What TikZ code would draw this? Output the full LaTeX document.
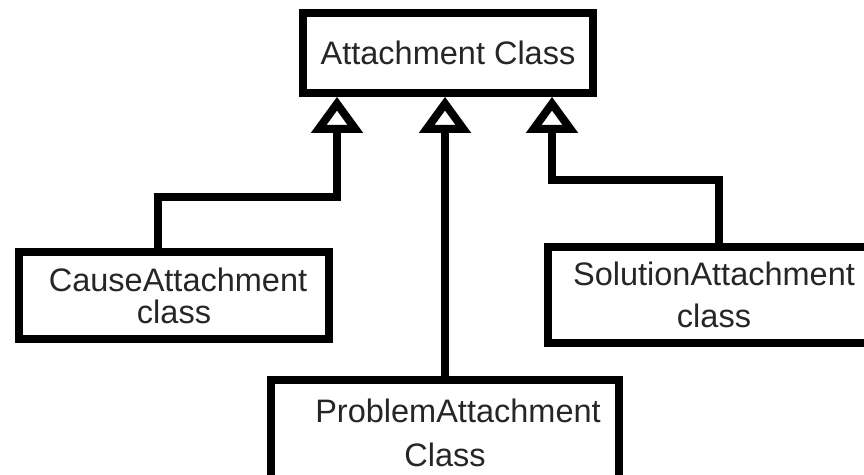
\documentclass[tikz,border=0pt]{standalone}
\usepackage{fontspec}
\setmainfont{Liberation Sans}
\usetikzlibrary{arrows.meta}
\begin{document}
\begin{tikzpicture}[x=1pt,y=-1pt,
  box/.style={draw=black,line width=7.5pt,fill=white,inner sep=0pt,align=center,
    font=\fontsize{32.5}{32}\selectfont,text=black!85},
  conn/.style={draw=black,line width=8pt,line join=miter},
  gen/.style={-{Triangle[open,length=36pt,width=50pt]}}]
\useasboundingbox[fill=white] (0,0) rectangle (864,474);
\clip (0,0) rectangle (864,474);
\node[box,minimum width=290pt,minimum height=80pt] (top) at (448,53) {Attachment Class};
\node[box,minimum width=310pt,minimum height=87pt] (cause) at (174,295.5) {\hspace*{8pt}CauseAttachment\\class};
\node[box,minimum width=332pt,minimum height=96pt] (sol) at (714,295) {SolutionAttachment\\[10pt]class};
\node[box,minimum width=348pt,minimum height=106pt] (prob) at (445,433) {\hspace*{26pt}ProblemAttachment\\[12pt]Class};
\coordinate (j1) at (158,197);
\coordinate (j3) at (719,180);
\draw[conn,gen] (cause.north -| j1) -- (j1) -| ([xshift=-111pt]top.south);
\draw[conn,gen] (prob.north) -- (prob.north |- top.south);
\draw[conn,gen] (sol.north -| j3) -- (j3) -| ([xshift=104pt]top.south);
\end{tikzpicture}
\end{document}
